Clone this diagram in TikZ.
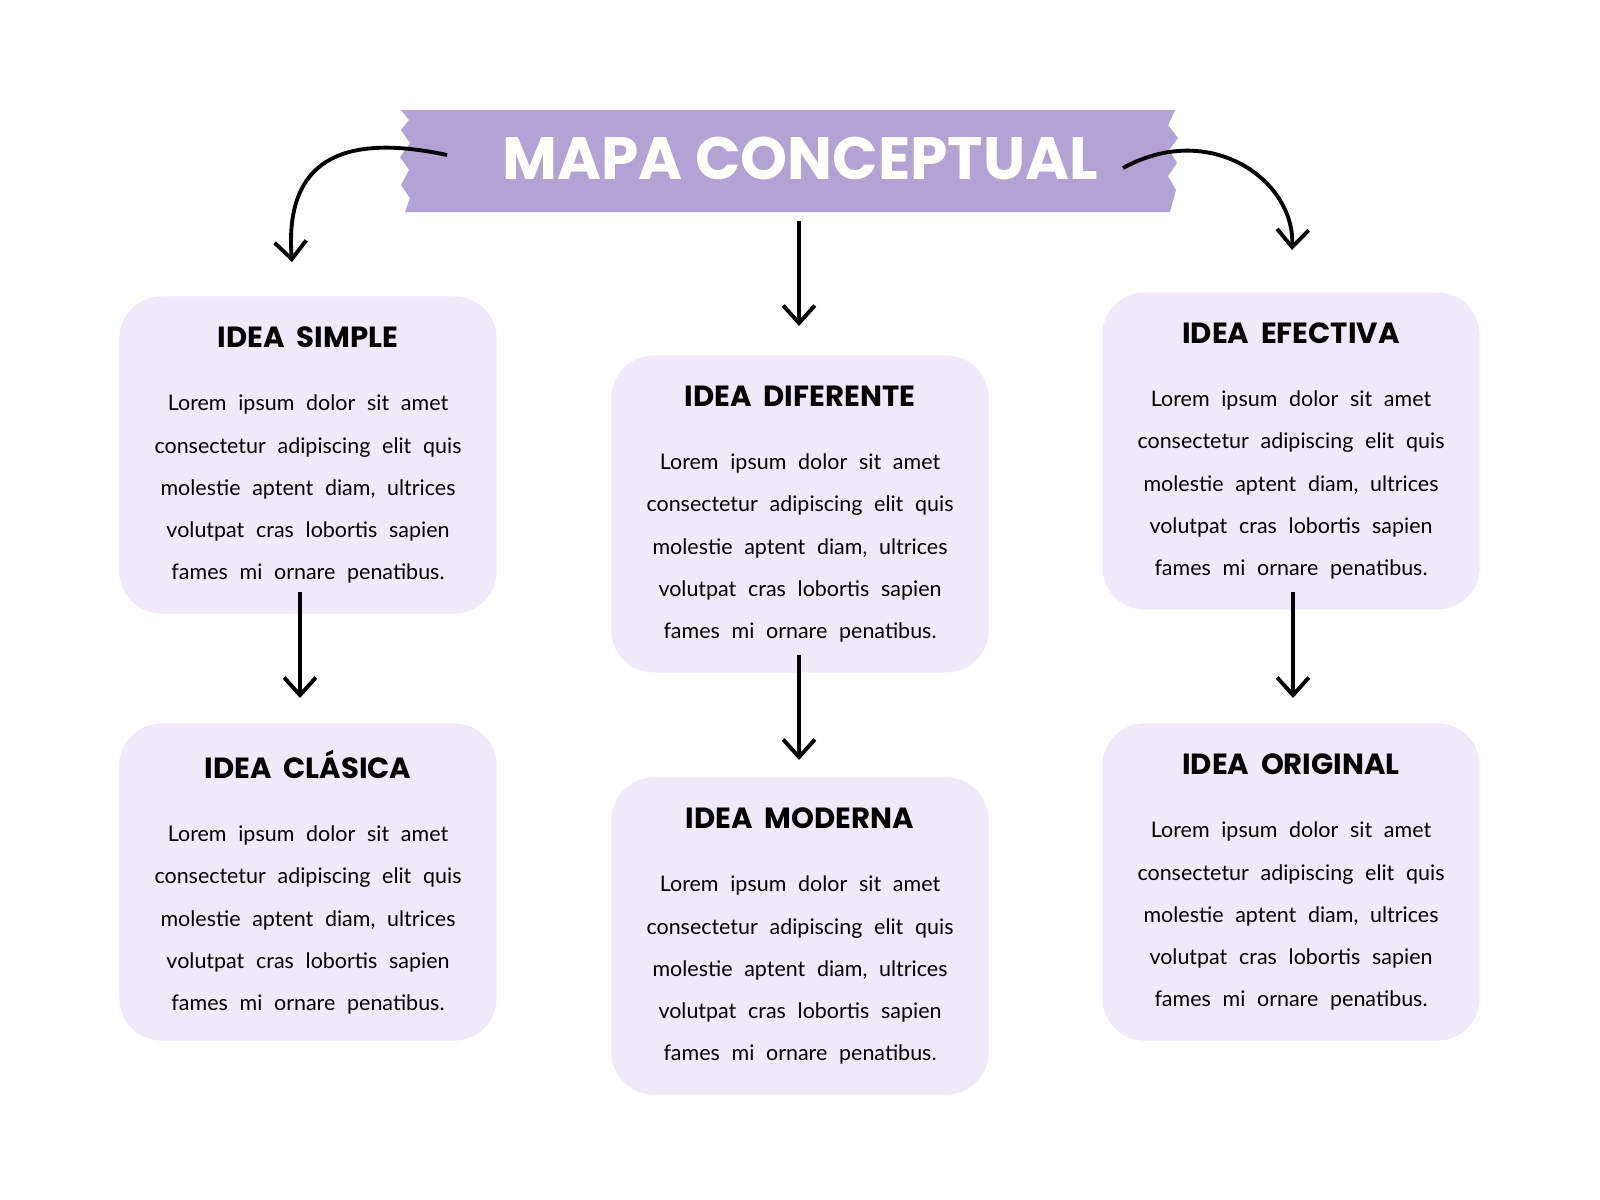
\documentclass[tikz,border=0pt]{standalone}
\usepackage{fontspec}
\setmainfont{Lato}
\newfontfamily\headfont{Poppins}
\usetikzlibrary{arrows.meta,positioning}
\definecolor{banner}{HTML}{B3A2D4}
\definecolor{boxfill}{HTML}{EFE9FA}

\tikzset{
	idea/.style = {fill=boxfill, rounded corners=12pt, minimum width=3.77cm,
		minimum height=3.17cm, text width=3.3cm, align=center, inner sep=0pt},
	link/.style = {line width=1.1pt, -{Straight Barb[length=5pt,width=9pt,line width=1.1pt]}}
}
\newcommand{\ideatext}[1]{{\headfont\bfseries\fontsize{8.3}{10}\selectfont #1}\\[6pt]
	\fontsize{6.1}{9.6}\selectfont Lorem ipsum dolor sit amet consectetur adipiscing elit quis molestie aptent diam, ultrices volutpat cras lobortis sapien fames mi ornare penatibus.}

\begin{document}
\begin{tikzpicture}[x=0.01cm,y=-0.01cm]
	\useasboundingbox (0,0) rectangle (1600,1200);
	% banner with torn ends
	\fill[banner] (401,110) -- (1175,110) -- (1168,125) -- (1178,138) -- (1169,150)
		-- (1177,163) -- (1168,176) -- (1176,190) -- (1170,212) -- (405,212)
		-- (410,198) -- (401,185) -- (409,170) -- (400,157) -- (410,143)
		-- (401,130) -- (409,120) -- cycle;
	\node[text=white, font=\headfont\bfseries\fontsize{17}{20}\selectfont] (title) at (800,158) {MAPA CONCEPTUAL};

	\node[idea] (simple) at (308,455) {\ideatext{IDEA SIMPLE}};
	\node[idea] (diferente) at (800,514) {\ideatext{IDEA DIFERENTE}};
	\node[idea] (efectiva) at (1291,451) {\ideatext{IDEA EFECTIVA}};
	\node[idea] (clasica) at (308,882) {\ideatext{IDEA CLÁSICA}};
	\node[idea] (moderna) at (800,936) {\ideatext{IDEA MODERNA}};
	\node[idea] (original) at (1291,882) {\ideatext{IDEA ORIGINAL}};

	% free ends of the arrows
	\coordinate (tl) at (447,155);
	\coordinate (tm) at (799,221);
	\coordinate (tr) at (1123,168);
	\coordinate (sl) at (292,262);
	\coordinate (sm) at (799,326);
	\coordinate (sr) at (1292,250);
	\coordinate (a1) at (300,592);
	\coordinate (b1) at (300,698);
	\coordinate (a2) at (799,655);
	\coordinate (b2) at (799,760);
	\coordinate (a3) at (1293,592);
	\coordinate (b3) at (1293,698);

	\draw[link] (tl) .. controls (330,130) and (285,170) .. (sl);
	\draw[link] (tm) -- (sm);
	\draw[link] (tr) .. controls (1210,120) and (1295,180) .. (sr);
	\draw[link] (a1) -- (b1);
	\draw[link] (a2) -- (b2);
	\draw[link] (a3) -- (b3);
\end{tikzpicture}
\end{document}
